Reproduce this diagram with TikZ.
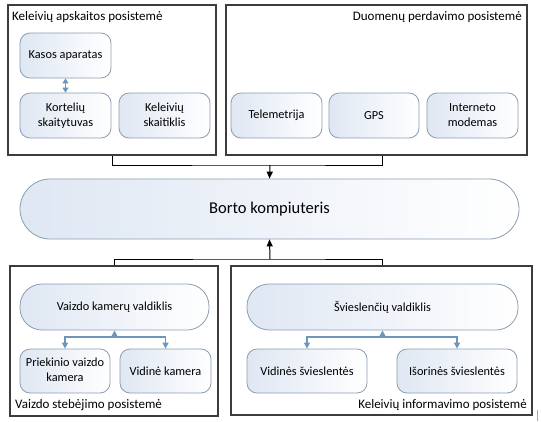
\documentclass[tikz,border=0pt]{standalone}
\usepackage{fontspec}
\setmainfont{Carlito}
\usetikzlibrary{arrows.meta}
\definecolor{nodeedge}{HTML}{8A9DB3}
\definecolor{nodefill}{HTML}{DFE7F3}
\definecolor{conn}{HTML}{6E96BA}
\definecolor{boxedge}{HTML}{3C3C3C}
\newcommand\twolines[2]{\begin{tabular}{@{}c@{}}#1\\#2\end{tabular}}
\tikzset{
  box/.style={draw=boxedge, line width=1.1pt},
  unit/.style={draw=nodeedge, line width=0.8pt, left color=nodefill, right color=white,
    rounded corners=10pt, minimum height=45pt, inner sep=2pt,
    font=\fontsize{12.3}{15}\selectfont},
  pill/.style={unit, rounded corners=22pt, minimum height=46pt},
  bigpill/.style={unit, rounded corners=30pt, minimum height=60pt, font=\fontsize{16.5}{19}\selectfont},
  ttl/.style={font=\fontsize{13}{15}\selectfont, inner sep=0pt},
  mainarrow/.style={line width=1pt, black},
  tiparrow/.style={-{Triangle[length=7pt,width=6pt]}},
  bconn/.style={draw=conn, line width=1.4pt},
  btip/.style={-{Triangle[length=6pt,width=6pt]}},
}
\begin{document}
\begin{tikzpicture}[x=1pt,y=-1pt]
\useasboundingbox (0,0) rectangle (541,421);
% outer boxes
\node[box, minimum width=208pt, minimum height=150pt, inner sep=0pt] (A) at (112,80) {};
\node[box, minimum width=301pt, minimum height=150pt, inner sep=0pt] (B) at (376.5,80) {};
\node[box, minimum width=208pt, minimum height=150pt, inner sep=0pt] (C) at (114,341) {};
\node[box, minimum width=301pt, minimum height=149pt, inner sep=0pt] (D) at (381.5,340.5) {};
% titles
\node[ttl, anchor=west] (tA) at (12,17) {Keleivių apskaitos posistemė};
\node[ttl, anchor=east] (tB) at (522,17) {Duomenų perdavimo posistemė};
\node[ttl, anchor=west] (tC) at (15,405) {Vaizdo stebėjimo posistemė};
\node[ttl, anchor=east] (tD) at (527,405) {Keleivių informavimo posistemė};
% inner nodes top
\node[unit, minimum width=91pt] (kasos) at (65.5,55.5) {Kasos aparatas};
\node[unit, minimum width=91pt] (kort) at (65.5,115.5) {\twolines{Kortelių}{skaitytuvas}};
\node[unit, minimum width=91pt] (kel) at (164.5,115.5) {\twolines{Keleivių}{skaitiklis}};
\node[unit, minimum width=91pt] (tele) at (276.5,115.5) {Telemetrija};
\node[unit, minimum width=90pt] (gps) at (374,115.5) {GPS};
\node[unit, minimum width=91pt] (inet) at (472.5,115.5) {\twolines{Interneto}{modemas}};
% central
\node[bigpill, minimum width=499pt] (borto) at (269.5,209) {Borto kompiuteris};
% bottom nodes
\node[pill, minimum width=189pt] (vkv) at (114.5,307) {Vaizdo kamerų valdiklis};
\node[unit, minimum width=90pt, minimum height=44pt] (priek) at (65,371) {\twolines{Priekinio vaizdo}{kamera}};
\node[unit, minimum width=91pt, minimum height=44pt] (vid) at (165.5,371) {Vidinė kamera};
\node[pill, minimum width=271pt] (svv) at (382.5,307) {Švieslenčių valdiklis};
\node[unit, minimum width=120pt, minimum height=44pt] (vidsv) at (307,371) {Vidinės švieslentės};
\node[unit, minimum width=120pt, minimum height=44pt] (isor) at (457,371) {Išorinės švieslentės};
% main connectors
\coordinate (jt) at (270,165);
\coordinate (jb) at (270,259);
\draw[mainarrow] (A.south) |- (jt) -| ([xshift=5.5pt]B.south);
\draw[mainarrow, tiparrow] (jt) -- (borto.north);
\draw[mainarrow] (C.north) |- (jb) -| ([xshift=0.5pt]D.north);
\draw[mainarrow, tiparrow] (jb) -- (borto.south);
% inner connectors
\draw[bconn, {Triangle[length=5pt,width=6pt]}-{Triangle[length=5pt,width=6pt]}] (kasos.south) -- (kort.north);
\coordinate (h1) at (114.5,337);
\coordinate (h2) at (382.5,337);
\draw[bconn, btip] (h1) -- (vkv.south);
\draw[bconn, btip] (h1) -| (priek.north);
\draw[bconn, btip] (h1) -| (vid.north);
\draw[bconn, btip] (h2) -- (svv.south);
\draw[bconn, btip] (h2) -| (vidsv.north);
\draw[bconn, btip] (h2) -| (isor.north);
% stray mark at lower right
\draw[gray!70, line width=0.8pt] (537,410) -- (537,421);
\end{tikzpicture}
\end{document}
